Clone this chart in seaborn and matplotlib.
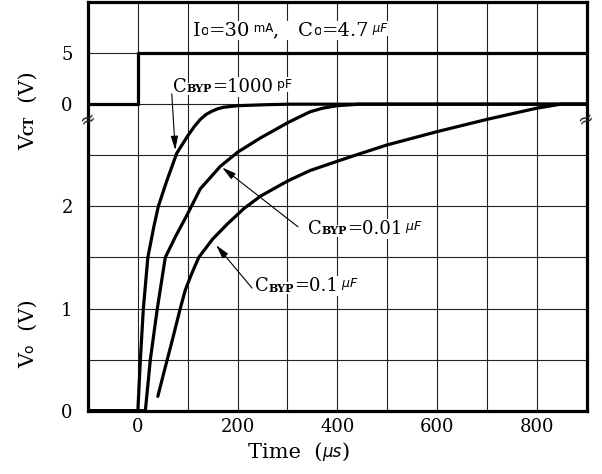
import numpy as np
import pandas as pd
import matplotlib
matplotlib.use("Agg")
import matplotlib.pyplot as plt
import seaborn as sns

# ---------------------------------------------------------------------------
# Data (time in us, Vo in V)
# ---------------------------------------------------------------------------
t_1000p = [-100, 0, 5, 11, 20, 32, 41, 58, 78, 100, 113, 125, 137, 148, 160, 172, 200,
           259, 305, 900]
v_1000p = [0, 0, 0.5, 1.0, 1.5, 1.8, 2.0, 2.25, 2.52, 2.69, 2.78, 2.85, 2.90, 2.93, 2.955,
           2.97, 2.985, 2.995, 3.0, 3.0]

t_001u = [-100, 15, 25, 39, 55, 75, 98, 125, 165, 200, 246, 301, 326, 345, 370, 399, 445,
          900]
v_001u = [0, 0, 0.5, 1.0, 1.5, 1.70, 1.91, 2.17, 2.39, 2.53, 2.67, 2.82, 2.88, 2.925,
          2.96, 2.985, 3.0, 3.0]

t_01u = [40, 52, 69, 85, 95, 107, 122, 150, 180, 213, 246, 301, 345, 399, 442,
         499, 599, 699, 799, 848, 900]
v_01u = [0.14, 0.37, 0.69, 1.0, 1.18, 1.33, 1.5, 1.68, 1.83, 1.98, 2.10, 2.25, 2.35,
         2.44, 2.51, 2.60, 2.73, 2.85, 2.96, 3.0, 3.0]

# control voltage step (V), drawn in the upper strip of the same axes
vct_t = [-100, 0, 0, 900]
vct_v = [0, 0, 5, 5]
VCT_BASE = 3.0    # VCT = 0 sits on Vo = 3.0 grid line
VCT_SCALE = 0.1   # 5 V of VCT spans half a Vo division

x_ticks = [-100, 0, 100, 200, 300, 400, 500, 600, 700, 800, 900]
x_labels = ["", "0", "", "200", "", "400", "", "600", "", "800", ""]
y_ticks = [0, 0.5, 1, 1.5, 2, 2.5, 3, 3.5]
y_labels = ["0", "", "1", "", "2", "", "0", "5"]

SERIF = "DejaVu Serif"
FONTS = {
    "serif": dict(family=SERIF),
    "cap": dict(family=SERIF, weight="bold"),
    "sans": dict(family="DejaVu Sans"),
    "unit": dict(family="DejaVu Sans", style="italic"),
}


def rich(ax, x, y, parts, transform=None, rotation=0, bg=False):
    # Draw a run of text pieces with mixed sizes, chained one after another.
    # align 'b' keeps the piece on the baseline, 't' hangs it from the top.
    first = prev = None
    s0 = None
    for s, size, font, align in parts:
        kw = dict(fontsize=size, color="black", zorder=3, **FONTS[font])
        if bg:
            kw["bbox"] = dict(fc="white", ec="none", pad=0.6)
        if first is None:
            if rotation == 0:
                first = ax.text(x, y, s, transform=transform or ax.transData,
                                ha="left", va="baseline", **kw)
            else:
                first = ax.text(x, y, s, transform=transform or ax.transData,
                                rotation=90, ha="right", va="bottom", **kw)
            prev, s0 = first, size
            continue
        shift = 0.23 * (s0 - size) if align == "b" else 0.0
        if rotation == 0:
            t = ax.annotate(s, xy=(1, 0 if align == "b" else 1), xycoords=(prev, first),
                            xytext=(0, shift), textcoords="offset points",
                            ha="left", va="bottom" if align == "b" else "top", **kw)
        else:
            t = ax.annotate(s, xy=(1 if align == "b" else 0, 1), xycoords=(first, prev),
                            xytext=(-shift, 0), textcoords="offset points", rotation=90,
                            ha="right" if align == "b" else "left", va="bottom", **kw)
        prev = t
    return first


sns.set_theme(style="white")
plt.rcParams["font.family"] = [SERIF, "DejaVu Sans"]

fig = plt.figure(figsize=(6.02, 4.74), dpi=100)
ax = fig.add_axes([88 / 602, 63.3 / 474, 498.7 / 602, 408.7 / 474])

curves = pd.concat([
    pd.DataFrame({"t": t_1000p, "v": v_1000p, "c": "1000p"}),
    pd.DataFrame({"t": t_001u, "v": v_001u, "c": "0.01u"}),
    pd.DataFrame({"t": t_01u, "v": v_01u, "c": "0.1u"}),
], ignore_index=True)
sns.lineplot(data=curves, x="t", y="v", units="c", estimator=None, sort=False,
             color="black", lw=2.3, ax=ax, zorder=2)

vct_y = [VCT_BASE + v * VCT_SCALE for v in vct_v]
sns.lineplot(x=vct_t, y=vct_y, estimator=None, sort=False, color="black", lw=2.3,
             ax=ax, zorder=2)

ax.set_xlim(-100, 900)
ax.set_ylim(0, 4.0)
ax.set_xticks(x_ticks, x_labels)
ax.set_yticks(y_ticks, y_labels)
ax.grid(True, color="#222222", lw=0.8)
ax.tick_params(axis="both", length=0, labelsize=13, colors="black")
ax.tick_params(axis="y", pad=11)
ax.tick_params(axis="x", pad=5)
for lab in ax.get_xticklabels() + ax.get_yticklabels():
    lab.set_family(SERIF)
for sp in ax.spines.values():
    sp.set_color("black")
    sp.set_linewidth(2.3)
ax.set_xlabel("")
ax.set_ylabel("")

# axis break marks on both spines
for xb in (-100, 900):
    ax.text(xb, 2.85, "\u2248", fontsize=14, rotation=25, ha="center", va="center",
            clip_on=False, zorder=5)

# condition text and curve labels
rich(ax, 110, 3.67, [("I", 14, "serif", "b"), ("o", 10, "sans", "b"),
                     ("=30", 14, "serif", "b"), (" mA", 8.5, "sans", "t"),
                     (",   ", 14, "serif", "b"), ("C", 14, "serif", "b"),
                     ("o", 10, "sans", "b"), ("=4.7", 14, "serif", "b"),
                     (" \u00b5F", 8.5, "unit", "t")], bg=True)
rich(ax, 70, 3.12, [("C", 13, "serif", "b"), ("BYP", 8, "cap", "b"),
                    ("=1000", 13, "serif", "b"), (" pF", 9, "sans", "t")], bg=True)
rich(ax, 341, 1.73, [("C", 13, "serif", "b"), ("BYP", 8, "cap", "b"),
                     ("=0.01", 13, "serif", "b"), (" \u00b5F", 9, "unit", "t")], bg=True)
rich(ax, 235, 1.17, [("C", 13, "serif", "b"), ("BYP", 8, "cap", "b"),
                     ("=0.1", 13, "serif", "b"), (" \u00b5F", 9, "unit", "t")], bg=True)

arrow = dict(arrowstyle="-|>,head_length=0.7,head_width=0.18", lw=0.8, color="black",
             shrinkA=0, shrinkB=0)
ax.annotate("", xy=(75, 2.55), xytext=(68, 3.10), arrowprops=arrow, zorder=4)
ax.annotate("", xy=(169, 2.38), xytext=(321, 1.80), arrowprops=arrow, zorder=4)
ax.annotate("", xy=(157, 1.62), xytext=(229, 1.20), arrowprops=arrow, zorder=4)

# axis titles
rich(ax, 248 / 602, 16 / 474, [("Time  (", 15, "serif", "b"), ("\u00b5s", 12, "unit", "b"),
                              (")", 15, "serif", "b")], transform=fig.transFigure)
rich(ax, 38 / 602, 106 / 474, [("V", 15, "serif", "b"), ("o", 10, "sans", "b"),
                              ("  (V)", 15, "serif", "b")],
     transform=fig.transFigure, rotation=90)
rich(ax, 38 / 602, 324 / 474, [("V", 15, "serif", "b"), ("CT", 9, "cap", "b"),
                              ("  (V)", 15, "serif", "b")],
     transform=fig.transFigure, rotation=90)

fig.savefig("out.png", dpi=100)
